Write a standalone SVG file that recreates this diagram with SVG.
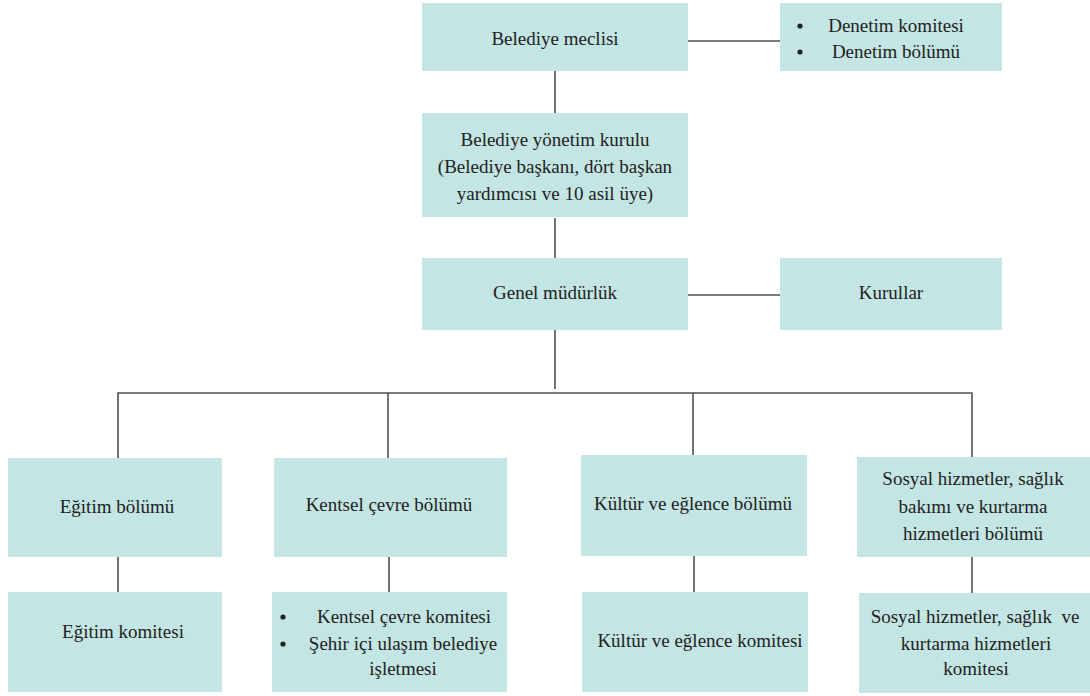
<svg xmlns="http://www.w3.org/2000/svg" width="1090" height="696" viewBox="0 0 1090 696">
<style>
.box{fill:#c3e5e3;}
.c{stroke:#505050;stroke-width:1.6;fill:none;}
.b{fill:#222;}
</style>
<rect width="1090" height="696" fill="#fff"/>
<g id="connectors">
<line class="c" x1="688" y1="41" x2="780" y2="41"/>
<line class="c" x1="555" y1="71" x2="555" y2="113"/>
<line class="c" x1="555" y1="218" x2="555" y2="258"/>
<line class="c" x1="688" y1="295" x2="780" y2="295"/>
<line class="c" x1="555" y1="330" x2="555" y2="389"/>
<polyline class="c" points="118,458 118,393 972,393 972,457"/>
<line class="c" x1="388" y1="393" x2="388" y2="458"/>
<line class="c" x1="693" y1="393" x2="693" y2="455"/>
<line class="c" x1="118" y1="557" x2="118" y2="592"/>
<line class="c" x1="389" y1="557" x2="389" y2="592"/>
<line class="c" x1="694" y1="556" x2="694" y2="592"/>
<line class="c" x1="972" y1="557" x2="972" y2="593"/>
</g>
<g font-family="Liberation Serif" font-size="19" fill="#222" text-anchor="middle">
<g id="belediye-meclisi">
<rect class="box" x="422" y="3" width="266" height="68"/>
<text x="555" y="45">Belediye meclisi</text>
</g>
<g id="denetim">
<rect class="box" x="780" y="3" width="222" height="68"/>
<circle class="b" cx="800" cy="26" r="2.6"/>
<circle class="b" cx="800" cy="52" r="2.6"/>
<text x="896" y="32">Denetim komitesi</text>
<text x="896" y="58">Denetim bölümü</text>
</g>
<g id="yonetim-kurulu">
<rect class="box" x="422" y="113" width="266" height="104"/>
<text x="555" y="146">Belediye yönetim kurulu</text>
<text x="555" y="173">(Belediye başkanı, dört başkan</text>
<text x="555" y="200">yardımcısı ve 10 asil üye)</text>
</g>
<g id="genel-mudurluk">
<rect class="box" x="422" y="258" width="266" height="72"/>
<text x="555" y="299">Genel müdürlük</text>
</g>
<g id="kurullar">
<rect class="box" x="780" y="258" width="222" height="72"/>
<text x="891" y="299">Kurullar</text>
</g>
<g id="egitim-bolumu">
<rect class="box" x="8" y="458" width="214" height="99"/>
<text x="117" y="513">Eğitim bölümü</text>
</g>
<g id="kentsel-bolumu">
<rect class="box" x="274" y="458" width="233" height="99"/>
<text x="389" y="511">Kentsel çevre bölümü</text>
</g>
<g id="kultur-bolumu">
<rect class="box" x="581" y="455" width="226" height="101"/>
<text x="693" y="510">Kültür ve eğlence bölümü</text>
</g>
<g id="sosyal-bolumu">
<rect class="box" x="857" y="457" width="233" height="100"/>
<text x="973" y="485">Sosyal hizmetler, sağlık</text>
<text x="973" y="513">bakımı ve kurtarma</text>
<text x="973" y="540">hizmetleri bölümü</text>
</g>
<g id="egitim-komitesi">
<rect class="box" x="8" y="592" width="214" height="100"/>
<text x="123" y="638">Eğitim komitesi</text>
</g>
<g id="kentsel-komite">
<rect class="box" x="272" y="592" width="235" height="100"/>
<circle class="b" cx="283" cy="617" r="2.6"/>
<circle class="b" cx="283" cy="644" r="2.6"/>
<text x="404" y="623">Kentsel çevre komitesi</text>
<text x="403" y="650">Şehir içi ulaşım belediye</text>
<text x="403" y="675">işletmesi</text>
</g>
<g id="kultur-komitesi">
<rect class="box" x="582" y="592" width="226" height="100"/>
<text x="700" y="647">Kültür ve eğlence komitesi</text>
</g>
<g id="sosyal-komitesi">
<rect class="box" x="859" y="593" width="231" height="100"/>
<text x="975" y="623" xml:space="preserve">Sosyal hizmetler, sağlık  ve</text>
<text x="976" y="650">kurtarma hizmetleri</text>
<text x="976" y="675">komitesi</text>
</g>
</g>
</svg>
